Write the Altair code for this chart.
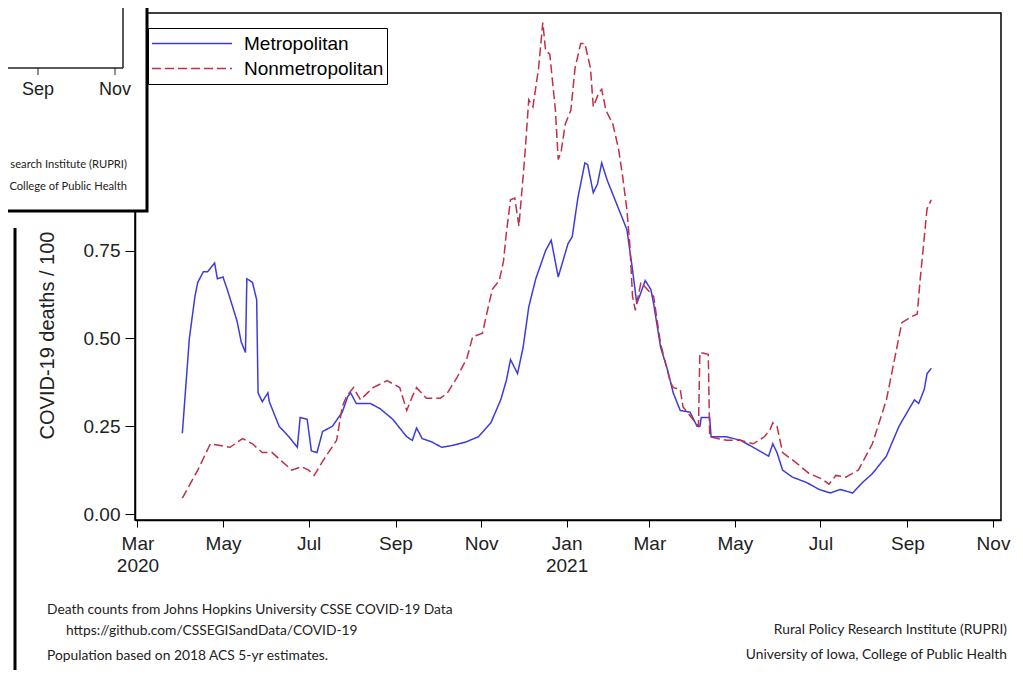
import altair as alt
import pandas as pd

# ---------------- data ----------------
metro_dates = [
    "2020-04-02", "2020-04-07", "2020-04-11", "2020-04-13", "2020-04-17", "2020-04-20",
    "2020-04-22", "2020-04-25", "2020-04-27", "2020-05-01", "2020-05-04", "2020-05-11",
    "2020-05-14", "2020-05-17", "2020-05-18", "2020-05-22", "2020-05-25", "2020-05-26",
    "2020-05-29", "2020-06-02", "2020-06-03", "2020-06-10", "2020-06-17", "2020-06-23",
    "2020-06-25", "2020-06-30", "2020-07-03", "2020-07-07", "2020-07-11", "2020-07-18",
    "2020-07-25", "2020-07-29", "2020-07-31", "2020-08-04", "2020-08-14", "2020-08-21",
    "2020-08-30", "2020-09-09", "2020-09-13", "2020-09-16", "2020-09-20", "2020-09-27",
    "2020-10-04", "2020-10-11", "2020-10-21", "2020-10-30", "2020-11-08", "2020-11-15",
    "2020-11-19", "2020-11-22", "2020-11-27", "2020-12-01", "2020-12-05", "2020-12-10",
    "2020-12-17", "2020-12-21", "2020-12-26", "2021-01-02", "2021-01-05", "2021-01-09",
    "2021-01-14", "2021-01-16", "2021-01-20", "2021-01-23", "2021-01-26", "2021-01-30",
    "2021-02-04", "2021-02-13", "2021-02-17", "2021-02-20", "2021-02-22", "2021-02-26",
    "2021-03-02", "2021-03-04", "2021-03-09", "2021-03-14", "2021-03-18", "2021-03-23",
    "2021-03-30", "2021-04-04", "2021-04-06", "2021-04-07", "2021-04-13", "2021-04-14",
    "2021-04-25", "2021-05-05", "2021-05-14", "2021-05-25", "2021-05-28", "2021-05-31",
    "2021-06-04", "2021-06-11", "2021-06-21", "2021-06-30", "2021-07-08", "2021-07-15",
    "2021-07-24", "2021-07-31", "2021-08-07", "2021-08-17", "2021-08-26", "2021-09-03",
    "2021-09-06", "2021-09-09", "2021-09-13", "2021-09-15", "2021-09-18",
]
metro_values = [
    0.23, 0.50, 0.62, 0.66, 0.69, 0.69,
    0.70, 0.715, 0.67, 0.675, 0.64, 0.55,
    0.49, 0.46, 0.67, 0.66, 0.61, 0.345,
    0.32, 0.345, 0.32, 0.25, 0.22, 0.19,
    0.275, 0.27, 0.18, 0.175, 0.235, 0.25,
    0.29, 0.335, 0.345, 0.315, 0.315, 0.30,
    0.27, 0.22, 0.21, 0.245, 0.215, 0.205,
    0.19, 0.195, 0.205, 0.22, 0.26, 0.325,
    0.38, 0.44, 0.40, 0.475, 0.59, 0.67,
    0.75, 0.78, 0.675, 0.77, 0.79, 0.90,
    1.00, 0.995, 0.915, 0.94, 1.00, 0.95,
    0.90, 0.81, 0.695, 0.60, 0.62, 0.665,
    0.64, 0.60, 0.475, 0.41, 0.345, 0.295,
    0.29, 0.25, 0.25, 0.275, 0.275, 0.22,
    0.22, 0.21, 0.19, 0.165, 0.20, 0.175,
    0.125, 0.105, 0.09, 0.07, 0.06, 0.07,
    0.06, 0.09, 0.115, 0.165, 0.25, 0.305,
    0.325, 0.315, 0.355, 0.40, 0.415,
]

nonmetro_dates = [
    "2020-04-02", "2020-04-13", "2020-04-22", "2020-04-29", "2020-05-06", "2020-05-15",
    "2020-05-22", "2020-05-29", "2020-06-05", "2020-06-12", "2020-06-19", "2020-06-26",
    "2020-07-01", "2020-07-05", "2020-07-11", "2020-07-21", "2020-07-25", "2020-07-28",
    "2020-08-02", "2020-08-07", "2020-08-12", "2020-08-16", "2020-08-26", "2020-09-04",
    "2020-09-09", "2020-09-13", "2020-09-16", "2020-09-23", "2020-10-03", "2020-10-08",
    "2020-10-15", "2020-10-22", "2020-10-26", "2020-11-02", "2020-11-05", "2020-11-09",
    "2020-11-14", "2020-11-17", "2020-11-19", "2020-11-22", "2020-11-25", "2020-11-28",
    "2020-12-02", "2020-12-05", "2020-12-08", "2020-12-12", "2020-12-15", "2020-12-17",
    "2020-12-20", "2020-12-24", "2020-12-26", "2020-12-28", "2020-12-31", "2021-01-02",
    "2021-01-04", "2021-01-07", "2021-01-11", "2021-01-14", "2021-01-18", "2021-01-20",
    "2021-01-24", "2021-01-26", "2021-01-29", "2021-02-03", "2021-02-07", "2021-02-10",
    "2021-02-13", "2021-02-15", "2021-02-17", "2021-02-19", "2021-02-23", "2021-03-04",
    "2021-03-09", "2021-03-16", "2021-03-18", "2021-03-23", "2021-03-25", "2021-04-01",
    "2021-04-05", "2021-04-06", "2021-04-12", "2021-04-13", "2021-04-25", "2021-05-05",
    "2021-05-14", "2021-05-22", "2021-05-26", "2021-05-28", "2021-05-31", "2021-06-04",
    "2021-06-14", "2021-06-23", "2021-07-02", "2021-07-07", "2021-07-12", "2021-07-19",
    "2021-07-28", "2021-08-07", "2021-08-17", "2021-08-24", "2021-08-28", "2021-09-03",
    "2021-09-08", "2021-09-10", "2021-09-15", "2021-09-18",
]
nonmetro_values = [
    0.045, 0.125, 0.20, 0.195, 0.19, 0.215,
    0.20, 0.175, 0.175, 0.15, 0.125, 0.135,
    0.125, 0.11, 0.15, 0.21, 0.305, 0.335,
    0.36, 0.325, 0.345, 0.36, 0.38, 0.36,
    0.295, 0.335, 0.36, 0.33, 0.33, 0.345,
    0.39, 0.445, 0.505, 0.515, 0.57, 0.64,
    0.665, 0.72, 0.80, 0.895, 0.90, 0.82,
    1.01, 1.18, 1.16, 1.27, 1.40, 1.32,
    1.31, 1.15, 1.01, 1.03, 1.11, 1.13,
    1.15, 1.27, 1.34, 1.34, 1.27, 1.16,
    1.20, 1.21, 1.15, 1.11, 1.04, 0.96,
    0.865, 0.77, 0.62, 0.58, 0.66, 0.62,
    0.485, 0.375, 0.36, 0.355, 0.305, 0.27,
    0.25, 0.46, 0.455, 0.22, 0.21, 0.21,
    0.20, 0.22, 0.24, 0.26, 0.25, 0.175,
    0.145, 0.115, 0.10, 0.085, 0.11, 0.105,
    0.125, 0.20, 0.325, 0.465, 0.545, 0.56,
    0.57, 0.665, 0.87, 0.895,
]

series_names = ["Metropolitan", "Nonmetropolitan"]
series_colors = ["#3c3cdc", "#c0304a"]
series_dashes = [[1, 0], [9, 4]]

# the 1.00 and 1.25 labels are hidden under the overlapping inset in the picture
y_ticks = [0.0, 0.25, 0.5, 0.75]
x_tick_months = [(2020, 3), (2020, 5), (2020, 7), (2020, 9), (2020, 11),
                 (2021, 1), (2021, 3), (2021, 5), (2021, 7), (2021, 9), (2021, 11)]

y_title = "COVID-19 deaths / 100"
footer_left = ["Death counts from Johns Hopkins University CSSE COVID-19 Data",
               "https://github.com/CSSEGISandData/COVID-19",
               "Population based on 2018 ACS 5-yr estimates."]
footer_right = ["Rural Policy Research Institute (RUPRI)",
                "University of Iowa, College of Public Health"]
inset_ticks = ["Sep", "Nov"]
inset_notes = ["search Institute (RUPRI)", "College of Public Health"]

# ---------------- build ----------------
df = pd.concat([
    pd.DataFrame({"date": metro_dates, "value": metro_values, "series": series_names[0]}),
    pd.DataFrame({"date": nonmetro_dates, "value": nonmetro_values, "series": series_names[1]}),
], ignore_index=True)

FONT = "Liberation Sans"
SMALL = "Lato"

legend = alt.Legend(
    title=None, orient="none", legendX=13, legendY=15,
    symbolType="stroke", symbolSize=6400, symbolStrokeWidth=1.5,
    clipHeight=25, labelOffset=11, labelFontSize=19, labelFont=FONT,
    labelColor="black", padding=3, rowPadding=0, strokeColor="black",
    fillColor="white", labelLimit=400,
)

x_values = [alt.DateTime(year=y, month=m, date=1, utc=True) for (y, m) in x_tick_months]

lines = alt.Chart(df).mark_line(strokeWidth=1.5).encode(
    x=alt.X(
        "date:T",
        scale=alt.Scale(
            type="utc", nice=False,
            domain=[alt.DateTime(year=2020, month=2, date=28, hours=6, utc=True),
                    alt.DateTime(year=2021, month=11, date=6, hours=17, utc=True)],
        ),
        axis=alt.Axis(
            values=x_values, title=None, grid=False,
            labelExpr="(utcmonth(datum.value) == 0 || (utcyear(datum.value) == 2020 && utcmonth(datum.value) == 2)) ? [utcFormat(datum.value, '%b'), utcFormat(datum.value, '%Y')] : utcFormat(datum.value, '%b')",
            labelFont=FONT, labelFontSize=19, labelColor="#222", labelLineHeight=22,
            labelOverlap=False, labelFlush=False, labelPadding=7,
            tickSize=7, tickColor="black", tickWidth=1,
            domainColor="black", domainWidth=1.5,
        ),
    ),
    y=alt.Y(
        "value:Q",
        scale=alt.Scale(domain=[-0.017, 1.427], nice=False, zero=False),
        axis=alt.Axis(
            values=y_ticks, format=".2f", grid=False,
            title=y_title, titleFont=FONT, titleFontSize=20, titleFontWeight="normal",
            titleColor="#222", titleX=-82, titleY=322, titleAngle=270,
            titleAlign="center", titleBaseline="alphabetic",
            labelFont=FONT, labelFontSize=19, labelColor="#222", labelPadding=5,
            tickSize=10, tickColor="black", tickWidth=1,
            domainColor="black", domainWidth=1.5,
        ),
    ),
    color=alt.Color("series:N", scale=alt.Scale(domain=series_names, range=series_colors), legend=legend),
    strokeDash=alt.StrokeDash("series:N", scale=alt.Scale(domain=series_names, range=series_dashes), legend=legend),
)

one = pd.DataFrame({"k": [0]})
base = alt.Chart(one)

# footer notes
foot = []
for txt, dx, dy in zip(footer_left, [-88, -69, -88], [597, 618, 643]):
    foot.append(base.mark_text(align="left", baseline="middle", font=SMALL, fontSize=13.8, color="#222").encode(
        x=alt.value(dx), y=alt.value(dy), text=alt.value(txt)))
for txt, dy in zip(footer_right, [617, 642]):
    foot.append(base.mark_text(align="right", baseline="middle", font=SMALL, fontSize=13.8, color="#222").encode(
        x=alt.value(872), y=alt.value(dy), text=alt.value(txt)))

# overlapping inset picture at top-left
inset = [
    base.mark_rect(fill="white", stroke="black", strokeWidth=3).encode(
        x=alt.value(-150), x2=alt.value(12), y=alt.value(-40), y2=alt.value(198)),
    base.mark_rule(color="#222", strokeWidth=1.5).encode(
        x=alt.value(-12), x2=alt.value(-12), y=alt.value(-20), y2=alt.value(55)),
    base.mark_rule(color="#222", strokeWidth=1.5).encode(
        x=alt.value(-140), x2=alt.value(-12), y=alt.value(55), y2=alt.value(55)),
    base.mark_rule(color="#222", strokeWidth=1).encode(
        x=alt.value(-97), x2=alt.value(-97), y=alt.value(55), y2=alt.value(62)),
    base.mark_rule(color="#222", strokeWidth=1).encode(
        x=alt.value(-20), x2=alt.value(-20), y=alt.value(55), y2=alt.value(62)),
    base.mark_rule(color="black", strokeWidth=3).encode(
        x=alt.value(-120), x2=alt.value(-120), y=alt.value(215), y2=alt.value(700)),
]
for txt, dx in zip(inset_ticks, [-97, -20]):
    inset.append(base.mark_text(align="center", baseline="middle", font=FONT, fontSize=18, color="#222").encode(
        x=alt.value(dx), y=alt.value(77), text=alt.value(txt)))
for txt, dy in zip(inset_notes, [152, 174]):
    inset.append(base.mark_text(align="right", baseline="middle", font=SMALL, fontSize=11.2, color="#222").encode(
        x=alt.value(-8), y=alt.value(dy), text=alt.value(txt)))

chart = alt.layer(lines, *foot, *inset).properties(
    width=866, height=507,
    autosize=alt.AutoSizeParams(type="none"),
    padding={"left": 127, "top": 5, "right": 12, "bottom": 150},
    background="white",
).configure_view(stroke="black", strokeWidth=1.5)

chart.save("out.html", embed_options={"renderer": "svg", "actions": False})
